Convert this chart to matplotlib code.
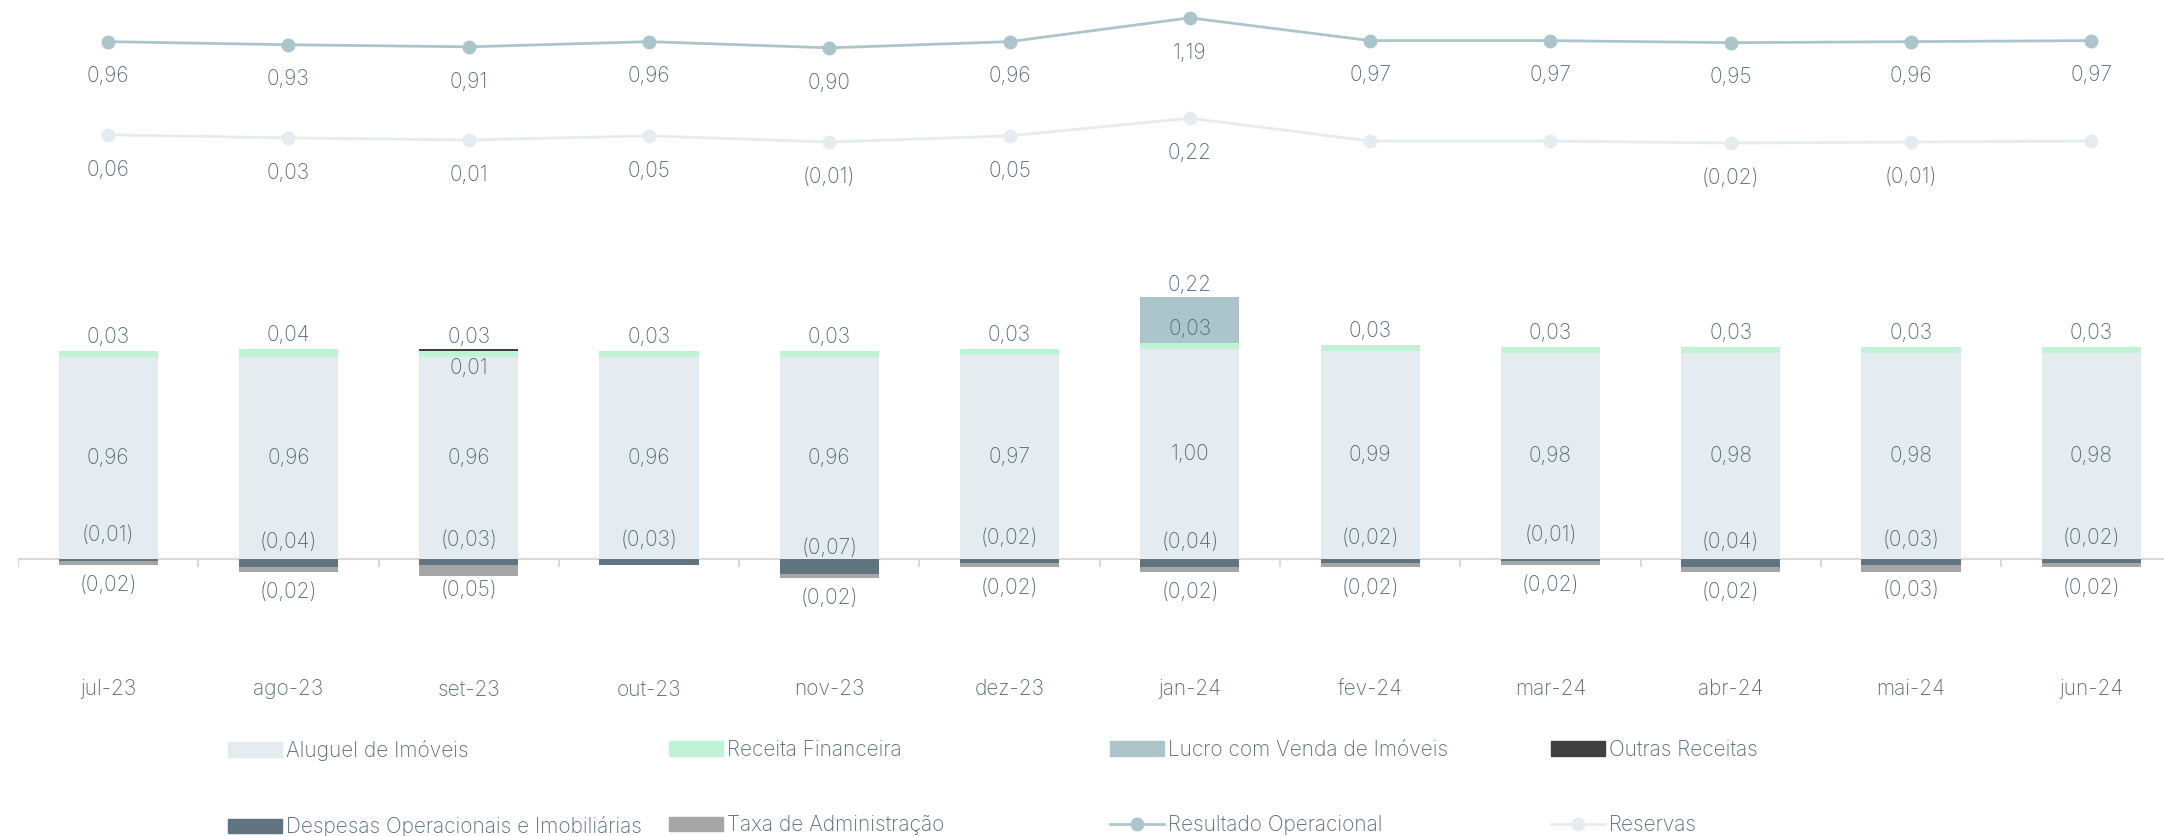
import numpy as np
import matplotlib.pyplot as plt
from matplotlib.patches import Patch
from matplotlib.lines import Line2D

plt.rcParams['font.family'] = ['Inter', 'DejaVu Sans']
plt.rcParams['font.weight'] = 'light'

meses = ['jul-23', 'ago-23', 'set-23', 'out-23', 'nov-23', 'dez-23',
         'jan-24', 'fev-24', 'mar-24', 'abr-24', 'mai-24', 'jun-24']

aluguel = [0.96, 0.96, 0.96, 0.96, 0.96, 0.97, 1.00, 0.99, 0.98, 0.98, 0.98, 0.98]
receita_fin = [0.03, 0.04, 0.03, 0.03, 0.03, 0.03, 0.03, 0.03, 0.03, 0.03, 0.03, 0.03]
lucro_venda = [0, 0, 0, 0, 0, 0, 0.22, 0, 0, 0, 0, 0]
outras = [0, 0, 0.01, 0, 0, 0, 0, 0, 0, 0, 0, 0]
despesas = [-0.01, -0.04, -0.03, -0.03, -0.07, -0.02, -0.04, -0.02, -0.01, -0.04, -0.03, -0.02]
taxa_adm = [-0.02, -0.02, -0.05, 0, -0.02, -0.02, -0.02, -0.02, -0.02, -0.02, -0.03, -0.02]
resultado = [0.96, 0.93, 0.91, 0.96, 0.90, 0.96, 1.19, 0.97, 0.97, 0.95, 0.96, 0.97]
reservas = [0.06, 0.03, 0.01, 0.05, -0.01, 0.05, 0.22, 0.00, 0.00, -0.02, -0.01, 0.00]

c_alug = '#e4ecef'
c_rec = '#c0f2d6'
c_lucro = '#abc5cb'
c_outras = '#404040'
c_desp = '#607580'
c_taxa = '#a6a6a6'
c_res = '#abc5cb'
c_reserv = '#e4ecef'
c_txt = '#586c76'
fs = 15


def fmt(v):
    s = f'{abs(v):.2f}'.replace('.', ',')
    return f'({s})' if v < 0 else s


W, H = 2164, 836
fig = plt.figure(figsize=(W / 100, H / 100), dpi=100)
ax = fig.add_axes([18 / W, 1 - 660 / H, 1 - 18 / W, 660 / H])
ax2 = ax.twinx()

x = np.arange(len(meses))
bw = 0.55
alug = np.array(aluguel)
rec = np.array(receita_fin)
luc = np.array(lucro_venda)
outr = np.array(outras)
desp = np.array(despesas)
taxa = np.array(taxa_adm)

ax.bar(x, alug, bw, color=c_alug, zorder=2)
ax.bar(x, rec, bw, bottom=alug, color=c_rec, zorder=2)
ax.bar(x, luc, bw, bottom=alug + rec, color=c_lucro, zorder=2)
ax.bar(x, outr, bw, bottom=alug + rec + luc, color=c_outras, zorder=2)
ax.bar(x, desp, bw, color=c_desp, zorder=2)
ax.bar(x, taxa, bw, bottom=desp, color=c_taxa, zorder=2)

ax.axhline(0, color='#d9d9d9', lw=1.5, zorder=1)
ax.vlines(np.arange(-0.5, len(meses)), -0.04, 0, color='#d9d9d9', lw=1.5, zorder=1)

for i in range(len(meses)):
    ax.annotate(fmt(alug[i]), (x[i], alug[i] / 2), ha='center', va='center',
                fontsize=fs, color=c_txt, zorder=3)
    top_rec = alug[i] + rec[i]
    ax.annotate(fmt(rec[i]), (x[i], top_rec), xytext=(0, 10), textcoords='offset points',
                ha='center', va='center', fontsize=fs, color=c_txt, zorder=3)
    if luc[i]:
        ax.annotate(fmt(luc[i]), (x[i], top_rec + luc[i]), xytext=(0, 8),
                    textcoords='offset points', ha='center', va='center',
                    fontsize=fs, color=c_txt, zorder=3)
    if outr[i]:
        ax.annotate(fmt(outr[i]), (x[i], top_rec + luc[i]), xytext=(0, -12),
                    textcoords='offset points', ha='center', va='center',
                    fontsize=fs, color=c_txt, zorder=3)
    ax.annotate(fmt(desp[i]), (x[i], desp[i]), xytext=(0, 18.5), textcoords='offset points',
                ha='center', va='center', fontsize=fs, color=c_txt, zorder=3)
    if taxa[i]:
        ax.annotate(fmt(taxa[i]), (x[i], desp[i]), xytext=(0, -17.5),
                    textcoords='offset points', ha='center', va='center',
                    fontsize=fs, color=c_txt, zorder=3)

ax.set_xlim(-0.5, (W - 108) / 180.3)
ax.set_ylim(-(660 - 559) / 210, 559 / 210)
ax.set_xticks(x)
ax.set_xticklabels(meses, fontsize=fs, color=c_txt)
ax.tick_params(axis='x', length=0, pad=14)
ax.set_yticks([])
for s in ax.spines.values():
    s.set_visible(False)

# lines
ax2.plot(x, resultado, color=c_res, lw=2, marker='o', ms=9, zorder=3)
ax2.plot(x, reservas, color=c_reserv, lw=2, marker='o', ms=9, zorder=3)
for i in range(len(meses)):
    ax2.annotate(fmt(resultado[i]), (x[i], resultado[i]), xytext=(0, -25),
                 textcoords='offset points', ha='center', va='center',
                 fontsize=fs, color=c_txt)
    if round(reservas[i], 2) != 0:
        ax2.annotate(fmt(reservas[i]), (x[i], reservas[i]), xytext=(0, -25),
                     textcoords='offset points', ha='center', va='center',
                     fontsize=fs, color=c_txt)
ax2.set_ylim(-(660 - 141) / 103.5, 141 / 103.5)
ax2.set_yticks([])
for s in ax2.spines.values():
    s.set_visible(False)

# legend in four columns
cols = [
    [Patch(color=c_alug, label='Aluguel de Imóveis'),
     Patch(color=c_desp, label='Despesas Operacionais e Imobiliárias')],
    [Patch(color=c_rec, label='Receita Financeira'),
     Patch(color=c_taxa, label='Taxa de Administração')],
    [Patch(color=c_lucro, label='Lucro com Venda de Imóveis'),
     Line2D([], [], color=c_res, lw=2, marker='o', ms=9, label='Resultado Operacional')],
    [Patch(color=c_outras, label='Outras Receitas'),
     Line2D([], [], color=c_reserv, lw=2, marker='o', ms=9, label='Reservas')],
]
for k, hs in enumerate(cols):
    fig.legend(handles=hs, loc='upper left', bbox_to_anchor=((228 + 441 * k) / W, 1 - 740 / H),
               frameon=False, fontsize=fs, labelcolor=c_txt, handlelength=2.6,
               handleheight=0.7, handletextpad=0.2, labelspacing=2.65,
               borderpad=0, borderaxespad=0)

fig.savefig('out.png', dpi=100)
